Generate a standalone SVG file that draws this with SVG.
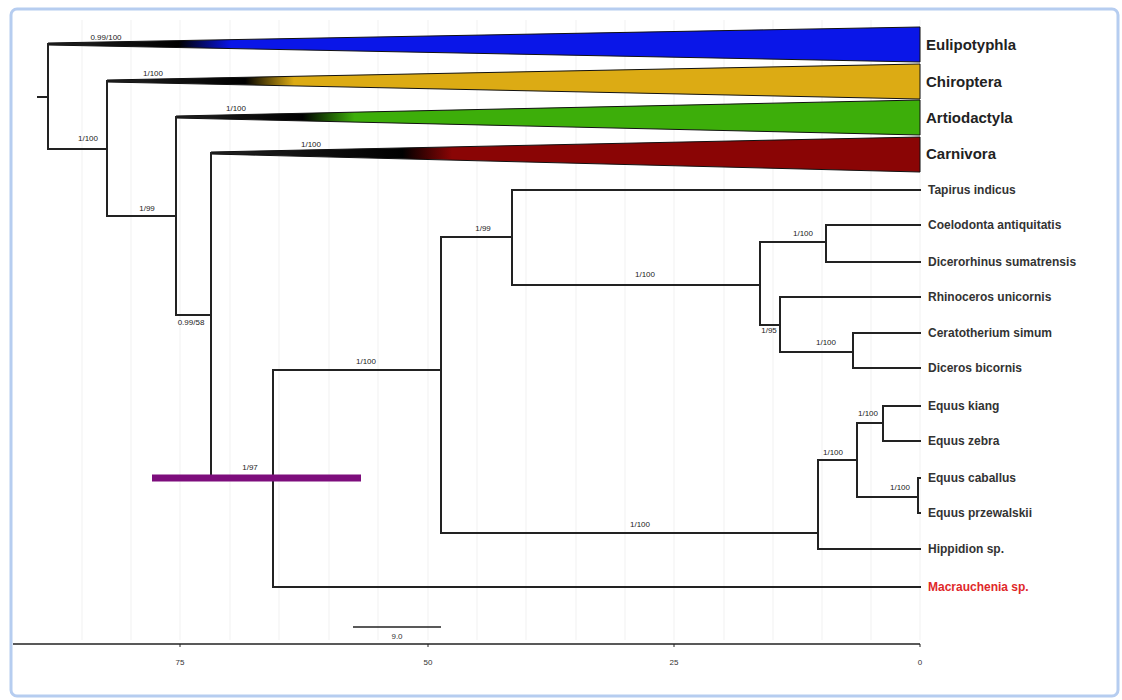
<svg xmlns="http://www.w3.org/2000/svg" width="1122" height="700" viewBox="0 0 1122 700">
<style>
.br{stroke:#222;stroke-width:2;fill:none;stroke-linecap:square}
.sup{font-family:"Liberation Sans",Arial,sans-serif;font-size:8px;fill:#222;text-anchor:middle}
.tip{font-family:"Liberation Sans",Arial,sans-serif;font-size:12px;font-weight:bold;fill:#333}
.clade{font-family:"Liberation Sans",Arial,sans-serif;font-size:15px;font-weight:bold;fill:#222}
.grid{stroke:#f1f1f1;stroke-width:1}
.ax{font-family:"Liberation Sans",Arial,sans-serif;font-size:8px;fill:#333;text-anchor:middle}
.tri{stroke:#111;stroke-width:1}
</style>
<defs>
<linearGradient id="gBlue" gradientUnits="userSpaceOnUse" x1="48" y1="0" x2="920" y2="0"><stop offset="0" stop-color="#222"/><stop offset="0.15" stop-color="#000"/><stop offset="0.21" stop-color="#0a16e8"/><stop offset="1" stop-color="#0a16e8"/></linearGradient>
<linearGradient id="gYel" gradientUnits="userSpaceOnUse" x1="107" y1="0" x2="920" y2="0"><stop offset="0" stop-color="#222"/><stop offset="0.17" stop-color="#000"/><stop offset="0.23" stop-color="#dcab14"/><stop offset="1" stop-color="#dcab14"/></linearGradient>
<linearGradient id="gGrn" gradientUnits="userSpaceOnUse" x1="176" y1="0" x2="920" y2="0"><stop offset="0" stop-color="#222"/><stop offset="0.17" stop-color="#000"/><stop offset="0.24" stop-color="#3dae0a"/><stop offset="1" stop-color="#3dae0a"/></linearGradient>
<linearGradient id="gRed" gradientUnits="userSpaceOnUse" x1="211" y1="0" x2="920" y2="0"><stop offset="0" stop-color="#222"/><stop offset="0.27" stop-color="#000"/><stop offset="0.34" stop-color="#8a0505"/><stop offset="1" stop-color="#8a0505"/></linearGradient>
</defs>
<rect x="0" y="0" width="1122" height="700" fill="#fff"/>
<rect x="11" y="9" width="1107" height="687" rx="6" fill="#fff" stroke="#b6cdf0" stroke-width="3"/>
<g id="grid">
<line class="grid" x1="82" y1="20" x2="82" y2="640"/>
<line class="grid" x1="131" y1="20" x2="131" y2="640"/>
<line class="grid" x1="180" y1="20" x2="180" y2="640"/>
<line class="grid" x1="230" y1="20" x2="230" y2="640"/>
<line class="grid" x1="279" y1="20" x2="279" y2="640"/>
<line class="grid" x1="329" y1="20" x2="329" y2="640"/>
<line class="grid" x1="378" y1="20" x2="378" y2="640"/>
<line class="grid" x1="428" y1="20" x2="428" y2="640"/>
<line class="grid" x1="477" y1="20" x2="477" y2="640"/>
<line class="grid" x1="526" y1="20" x2="526" y2="640"/>
<line class="grid" x1="576" y1="20" x2="576" y2="640"/>
<line class="grid" x1="625" y1="20" x2="625" y2="640"/>
<line class="grid" x1="674" y1="20" x2="674" y2="640"/>
<line class="grid" x1="724" y1="20" x2="724" y2="640"/>
<line class="grid" x1="773" y1="20" x2="773" y2="640"/>
<line class="grid" x1="822" y1="20" x2="822" y2="640"/>
<line class="grid" x1="871" y1="20" x2="871" y2="640"/>
<line class="grid" x1="920" y1="20" x2="920" y2="640"/>
</g>
<g id="clades">
<polygon class="tri" points="48,43 48,45 920,62 920,27" fill="url(#gBlue)"/>
<polygon class="tri" points="107,80 107,82 920,99 920,64" fill="url(#gYel)"/>
<polygon class="tri" points="176,116 176,118 920,135 920,100" fill="url(#gGrn)"/>
<polygon class="tri" points="211,152 211,154 920,172 920,137" fill="url(#gRed)"/>
</g>
<g id="connectors">
<path class="br" d="M38,97 H48 M48,44 V149 M48,149 H107"/>
<path class="br" d="M107,81 V216 M107,216 H176"/>
<path class="br" d="M176,117 V315 M176,315 H211"/>
<path class="br" d="M211,153 V477 M211,477 H273"/>
<path class="br" d="M273,370 V587 M273,370 H441 M273,587 H920"/>
<path class="br" d="M441,237 V533 M441,237 H512 M441,533 H818"/>
<path class="br" d="M512,190 V285 M512,190 H920 M512,285 H760"/>
<path class="br" d="M760,242 V325 M760,242 H826 M760,325 H780"/>
<path class="br" d="M826,225 V262 M826,225 H920 M826,262 H920"/>
<path class="br" d="M780,297 V352 M780,297 H920 M780,352 H853"/>
<path class="br" d="M853,333 V368 M853,333 H920 M853,368 H920"/>
<path class="br" d="M818,460 V549 M818,460 H857 M818,549 H920"/>
<path class="br" d="M857,423 V497 M857,423 H883 M857,497 H918"/>
<path class="br" d="M883,406 V441 M883,406 H920 M883,441 H920"/>
<path class="br" d="M918,478 V513 M918,478 H920 M918,513 H920"/>
</g>
<g id="hpd-bar">
<line x1="152" y1="478" x2="361" y2="478" stroke="#7d0d7c" stroke-width="7"/>
</g>
<g id="support">
<text class="sup" x="106" y="40">0.99/100</text>
<text class="sup" x="153" y="76">1/100</text>
<text class="sup" x="88" y="141">1/100</text>
<text class="sup" x="236" y="111">1/100</text>
<text class="sup" x="147" y="211">1/99</text>
<text class="sup" x="311" y="147">1/100</text>
<text class="sup" x="191" y="325">0.99/58</text>
<text class="sup" x="250" y="470">1/97</text>
<text class="sup" x="366" y="364">1/100</text>
<text class="sup" x="483" y="231">1/99</text>
<text class="sup" x="645" y="277">1/100</text>
<text class="sup" x="803" y="236">1/100</text>
<text class="sup" x="769" y="333">1/95</text>
<text class="sup" x="826" y="345">1/100</text>
<text class="sup" x="640" y="527">1/100</text>
<text class="sup" x="833" y="455">1/100</text>
<text class="sup" x="868" y="416">1/100</text>
<text class="sup" x="900" y="490">1/100</text>
</g>
<g id="labels">
<text class="clade" x="926" y="50">Eulipotyphla</text>
<text class="clade" x="926" y="87">Chiroptera</text>
<text class="clade" x="926" y="123">Artiodactyla</text>
<text class="clade" x="926" y="159">Carnivora</text>
<text class="tip" x="928" y="194">Tapirus indicus</text>
<text class="tip" x="928" y="229">Coelodonta antiquitatis</text>
<text class="tip" x="928" y="266">Dicerorhinus sumatrensis</text>
<text class="tip" x="928" y="301">Rhinoceros unicornis</text>
<text class="tip" x="928" y="337">Ceratotherium simum</text>
<text class="tip" x="928" y="372">Diceros bicornis</text>
<text class="tip" x="928" y="410">Equus kiang</text>
<text class="tip" x="928" y="445">Equus zebra</text>
<text class="tip" x="928" y="482">Equus caballus</text>
<text class="tip" x="928" y="517">Equus przewalskii</text>
<text class="tip" x="928" y="553">Hippidion sp.</text>
<text class="tip" x="928" y="591" style="fill:#e0282a">Macrauchenia sp.</text>
</g>
<g id="axis">
<line x1="13" y1="644" x2="920" y2="644" stroke="#222" stroke-width="1.5"/>
<path d="M180,644 V647 M428,644 V647 M674,644 V647 M920,644 V647" stroke="#222" stroke-width="1"/>
<text class="ax" x="180" y="665">75</text>
<text class="ax" x="428" y="665">50</text>
<text class="ax" x="674" y="665">25</text>
<text class="ax" x="920" y="665">0</text>
<line x1="353" y1="627" x2="441" y2="627" stroke="#222" stroke-width="1.5"/>
<text class="ax" x="397" y="639">9.0</text>
</g>
</svg>
